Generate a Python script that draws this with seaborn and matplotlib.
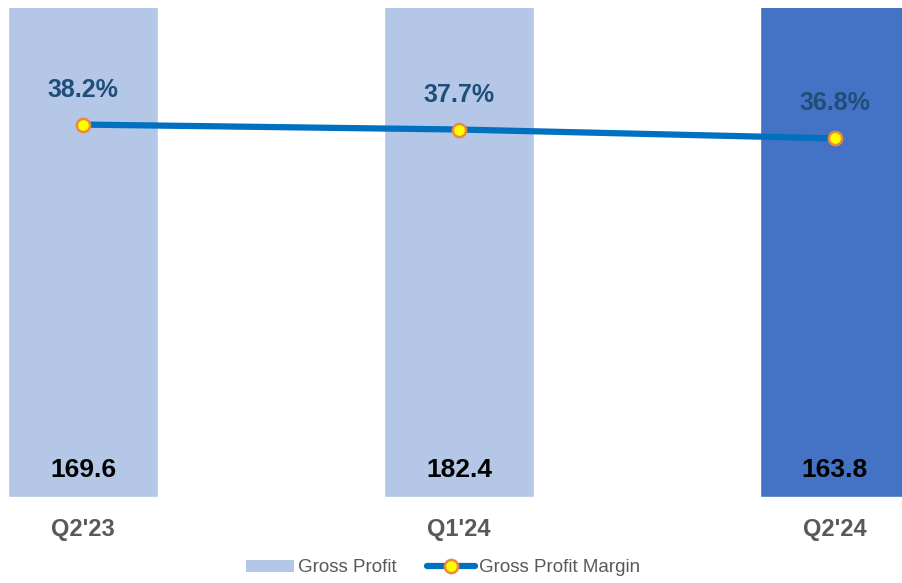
import numpy as np
import pandas as pd
import matplotlib
matplotlib.use("Agg")
import matplotlib.pyplot as plt
import seaborn as sns
from matplotlib.patches import Patch
from matplotlib.lines import Line2D

quarters = ["Q2'23", "Q1'24", "Q2'24"]
gross_profit = [169.6, 182.4, 163.8]
gross_margin = [38.2, 37.7, 36.8]
bar_colors = ["#B4C7E7", "#B4C7E7", "#4472C4"]

sns.set_theme(style="white")
plt.rcParams['font.family'] = ['Liberation Sans', 'DejaVu Sans']

df = pd.DataFrame({"quarter": quarters, "profit": gross_profit, "margin": gross_margin})

fig = plt.figure(figsize=(9.03, 5.83), dpi=100)
ax = fig.add_axes([0, 86 / 583, 1, 489 / 583])

sns.barplot(data=df, x="quarter", y="profit", hue="quarter", palette=bar_colors,
            width=0.4, legend=False, ax=ax, saturation=1)
ax.set_xlim(-83 / 376, 820 / 376)
ax.set_ylim(0, 150)
ax.set_xlabel("")
ax.set_ylabel("")
ax.set_yticks([])
ax.tick_params(axis="x", length=0, pad=15, labelsize=17, labelcolor="#595959")
for lbl in ax.get_xticklabels():
    lbl.set_fontweight("bold")
sns.despine(ax=ax, left=True, bottom=True)

# value labels near the bottom of each bar
for i, v in enumerate(gross_profit):
    ax.annotate(f"{v:.1f}", xy=(i, 0), xytext=(0, 27), textcoords="offset pixels",
                ha="center", va="center", fontsize=19, fontweight="bold", color="black")

ax2 = ax.twinx()
sns.lineplot(x=np.arange(len(gross_margin)), y=gross_margin, ax=ax2, color="#0070C0",
             linewidth=4.5, marker="o", markersize=9.5, markerfacecolor="#FFFF00",
             markeredgecolor="#F0883A", markeredgewidth=1.8)
ax2.set_ylim(0.5, 50)
ax2.set_yticks([])
ax2.set_ylabel("")
for s in ax2.spines.values():
    s.set_visible(False)

for i, m in enumerate(gross_margin):
    ax2.annotate(f"{m:.1f}%", xy=(i, m), xytext=(0, 35), textcoords="offset pixels",
                 ha="center", va="center", fontsize=18, fontweight="bold", color="#1F4E79")

handles = [Patch(facecolor="#B4C7E7", edgecolor="none", label="Gross Profit"),
           Line2D([0], [0], color="#0070C0", linewidth=4.5, marker="o", markersize=9.5,
                  markerfacecolor="#FFFF00", markeredgecolor="#F0883A", markeredgewidth=1.8,
                  label="Gross Profit Margin")]
fig.legend(handles=handles, loc="center", bbox_to_anchor=(443 / 903, 1 - 568 / 583),
           ncol=2, frameon=False, fontsize=13.5, labelcolor="#595959",
           handlelength=2.6, handleheight=0.6, handletextpad=0.2, columnspacing=1.6)

fig.savefig("out.png", dpi=100)
